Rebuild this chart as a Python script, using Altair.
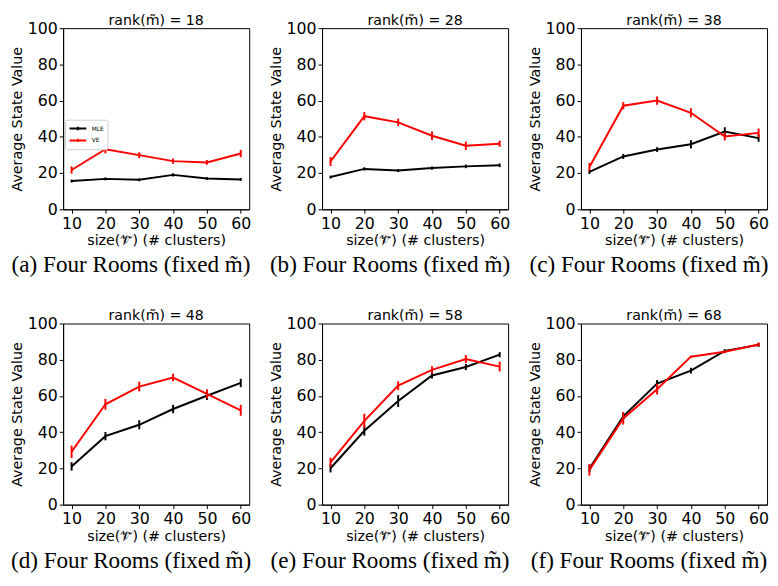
import altair as alt
import pandas as pd

sizes = [10, 20, 30, 40, 50, 60]
ranks = [18, 28, 38, 48, 58, 68]
letters = ["a", "b", "c", "d", "e", "f"]
yticks = [0, 20, 40, 60, 80, 100]

mle_means = [
    [15.6, 16.8, 16.3, 19.0, 17.0, 16.5],
    [17.8, 22.3, 21.4, 22.8, 23.7, 24.3],
    [20.7, 29.2, 33.0, 35.9, 42.9, 39.3],
    [21.1, 37.8, 44.1, 52.8, 60.1, 67.2],
    [20.1, 40.8, 57.2, 71.3, 76.0, 82.8],
    [20.0, 48.8, 66.8, 74.0, 84.9, 88.2],
]
mle_errs = [
    [0.8, 0.8, 0.8, 0.9, 0.8, 0.8],
    [0.8, 0.9, 0.8, 0.9, 1.0, 1.0],
    [1.2, 1.4, 1.3, 2.3, 2.4, 2.0],
    [2.3, 2.3, 2.5, 2.3, 2.3, 2.3],
    [2.3, 2.7, 3.3, 1.6, 1.7, 1.4],
    [2.0, 2.0, 2.0, 1.6, 0.9, 1.1],
]
ve_means = [
    [21.7, 33.2, 29.9, 26.6, 25.9, 30.8],
    [26.4, 51.4, 48.0, 40.6, 35.1, 36.2],
    [23.4, 57.2, 60.0, 53.3, 40.2, 42.2],
    [29.2, 55.4, 65.2, 70.2, 61.2, 52.1],
    [23.4, 46.3, 65.7, 74.4, 80.4, 76.2],
    [19.2, 47.6, 63.7, 81.7, 84.4, 88.4],
]
ve_errs = [
    [2.0, 2.3, 1.6, 1.5, 1.3, 2.0],
    [2.5, 2.3, 2.0, 2.3, 2.3, 1.7],
    [2.2, 2.0, 2.3, 2.5, 2.2, 2.4],
    [3.4, 3.0, 2.7, 2.1, 2.5, 3.0],
    [2.5, 3.9, 2.4, 2.0, 2.2, 2.7],
    [3.2, 3.4, 2.9, 0.6, 0.8, 1.1],
]

W, H = 189, 184


def panel(i):
    rows = []
    for name, means, errs in (("MLE", mle_means[i], mle_errs[i]), ("VE", ve_means[i], ve_errs[i])):
        for s, m, e in zip(sizes, means, errs):
            rows.append({"size": s, "value": m, "lo": m - e, "hi": m + e, "series": name})
    df = pd.DataFrame(rows)

    if i == 0:
        legend = alt.Legend(
            title=None, orient="none", legendX=2, legendY=93,
            labelFontSize=6, labelFont="DejaVu Sans", labelColor="black",
            symbolType="M-1.7,0H1.7M0,-0.35V0.35", symbolSize=100,
            symbolStrokeWidth=2, symbolOffset=4, labelOffset=8,
            padding=3, rowPadding=0, strokeColor="#cccccc", fillColor="white",
            cornerRadius=2,
        )
    else:
        legend = None

    color = alt.Color("series:N",
                      scale=alt.Scale(domain=["MLE", "VE"], range=["black", "red"]),
                      legend=legend)
    x = alt.X("size:Q", scale=alt.Scale(domain=[7.5, 62.5], nice=False, zero=False),
              axis=alt.Axis(values=sizes, tickCount=20, title="size(𝒱̃) (# clusters)",
                            labelOverlap=False, labelFlush=False, labelBound=False))
    y = alt.Y("value:Q", scale=alt.Scale(domain=[0, 100], nice=False),
              axis=alt.Axis(values=yticks, tickCount=20, title="Average State Value",
                            labelOverlap=False, labelFlush=False, labelBound=False))

    base = alt.Chart(df)
    line = base.mark_line(strokeWidth=2).encode(x=x, y=y, color=color)
    rules = base.mark_rule(strokeWidth=2).encode(
        x=alt.X("size:Q"), y=alt.Y("lo:Q"), y2="hi:Q", color=color)

    cap = alt.Chart(pd.DataFrame({"t": [f"({letters[i]}) Four Rooms (fixed m̃)"]})).mark_text(
        font="Liberation Serif", fontSize=23.5, align="center", baseline="middle", color="black"
    ).encode(x=alt.value(69), y=alt.value(241), text="t:N")

    return alt.layer(line, rules, cap).properties(
        width=W, height=H,
        title=alt.TitleParams(f"rank(m̃) = {ranks[i]}", fontSize=14.4, font="DejaVu Sans",
                              fontWeight="normal", color="black", offset=-8, frame="group"),
    )


row1 = alt.hconcat(panel(0), panel(1), panel(2), spacing=15)
row2 = alt.hconcat(panel(3), panel(4), panel(5), spacing=15)

chart = alt.vconcat(row1, row2, spacing=31).resolve_scale(color="independent").properties(
    padding={"left": 0, "top": 0, "right": 0, "bottom": 0}
).configure_view(stroke="black", strokeWidth=1).configure_axis(
    grid=False, domainColor="black", tickColor="black", tickSize=4,
    labelFont="DejaVu Sans", labelFontSize=16, labelColor="black", labelPadding=2,
    titleFont="DejaVu Sans", titleFontSize=14.5, titleColor="black",
    titleFontWeight="normal", titlePadding=3,
)

chart.save("out.html", embed_options={"renderer": "svg", "actions": False})
